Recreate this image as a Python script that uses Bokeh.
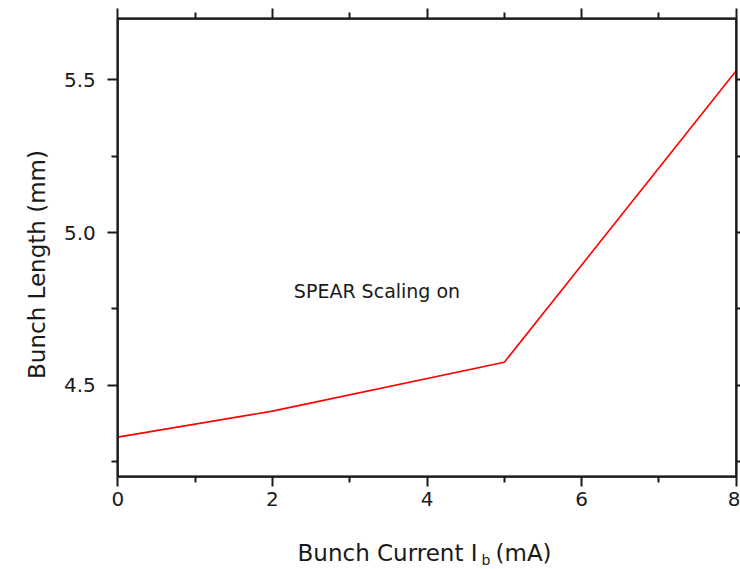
import math

from bokeh.embed import file_html
from bokeh.models import BoxAnnotation, FixedTicker, Label, LinearAxis, PrintfTickFormatter, Range1d
from bokeh.plotting import figure
from bokeh.resources import INLINE

# Bunch length versus bunch current
current_mA = [0, 2, 5, 8]
bunch_length_mm = [4.33, 4.415, 4.575, 5.53]

x_lim = (0, 8)
y_lim = (4.2, 5.7)
x_major = [0, 2, 4, 6, 8]
x_minor = [1, 3, 5, 7]
y_major = [4.5, 5.0, 5.5]
y_minor = [4.25, 4.75, 5.25]

FONT = "DejaVu Sans"
INK = "#1a1a1a"

# canvas and the pixel box that holds the data area
W, H = 740, 569
BOX_L, BOX_R, BOX_T, BOX_B = 117.3, 735.7, 18.3, 476.3

# ranges span the whole canvas so that titles drawn around the box are not clipped
sx = (BOX_R - BOX_L) / (x_lim[1] - x_lim[0])
sy = (BOX_B - BOX_T) / (y_lim[1] - y_lim[0])
x_range = Range1d(x_lim[0] - BOX_L / sx, x_lim[1] + (W - BOX_R) / sx)
y_range = Range1d(y_lim[0] - (H - BOX_B) / sy, y_lim[1] + BOX_T / sy)


def at(px, py):
    """Canvas pixel position -> data position."""
    return x_lim[0] + (px - BOX_L) / sx, y_lim[0] + (BOX_B - py) / sy


p = figure(
    width=W, height=H, x_range=x_range, y_range=y_range,
    x_axis_location=None, y_axis_location=None,
    output_backend="svg", toolbar_location=None,
    min_border=0,
)
p.grid.visible = False
p.outline_line_color = None
p.background_fill_color = "white"
p.border_fill_color = "white"


def make_axis(loc, bounds, ticker, label_size="20px"):
    ax = LinearAxis(fixed_location=loc, bounds=bounds, ticker=ticker)
    ax.axis_line_color = INK
    ax.axis_line_width = 2
    ax.major_tick_line_color = INK
    ax.major_tick_line_width = 2
    ax.minor_tick_line_color = INK
    ax.minor_tick_line_width = 2
    ax.major_tick_in = 0
    ax.major_tick_out = 10
    ax.minor_tick_in = 0
    ax.minor_tick_out = 6
    ax.major_label_text_font = FONT
    ax.major_label_text_font_size = label_size
    ax.major_label_text_color = INK
    return ax


bottom = make_axis(y_lim[0], x_lim, FixedTicker(ticks=x_major, minor_ticks=x_minor))
bottom.major_label_standoff = 5
p.add_layout(bottom, "below")

left = make_axis(x_lim[0], y_lim, FixedTicker(ticks=y_major, minor_ticks=y_minor))
left.formatter = PrintfTickFormatter(format="%.1f")
left.major_label_standoff = 12
p.add_layout(left, "left")

# mirrored top and right axes: ticks only
top = make_axis(y_lim[1], x_lim, FixedTicker(ticks=x_major, minor_ticks=x_minor))
top.major_label_text_color = None
p.add_layout(top, "above")

right = make_axis(x_lim[1], y_lim, FixedTicker(ticks=y_major, minor_ticks=y_minor))
right.major_label_text_color = None
p.add_layout(right, "right")

p.add_layout(BoxAnnotation(
    left=x_lim[0], right=x_lim[1], bottom=y_lim[0], top=y_lim[1],
    fill_color=None, line_color=INK, line_alpha=1.0, line_width=2,
))

p.line(current_mA, bunch_length_mm, line_color="#ff0000", line_width=1.6)

# labels sit this many pixels above the requested alphabetic baseline
BASE_SHIFT = 8


def add_text(px, py, text, size, align="left", angle=0.0):
    if angle:
        px -= BASE_SHIFT
    else:
        py -= BASE_SHIFT
    x, y = at(px, py)
    p.add_layout(Label(
        x=x, y=y, text=text, angle=angle, text_align=align,
        text_baseline="alphabetic", text_font=FONT,
        text_font_size=size, text_color=INK,
    ))


# annotation inside the box
add_text(376.5, 298.3, "SPEAR Scaling on", "19px", align="center")

# y-axis title
add_text(44, 264, "Bunch Length (mm)", "23px", align="center", angle=math.pi / 2)

# x-axis title with subscript b
add_text(477, 560, "Bunch Current I", "23px", align="right")
add_text(481, 567, "b", "14px")
add_text(495, 560, "(mA)", "23px")

open("out.html", "w").write(file_html(p, INLINE))
